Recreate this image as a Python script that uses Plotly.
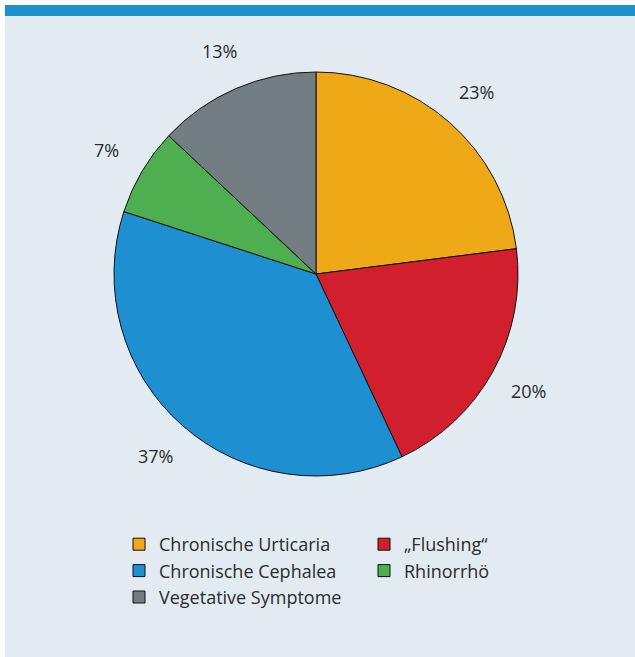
import math
import plotly.graph_objects as go

categories = ["Chronische Urticaria", "„Flushing“", "Chronische Cephalea", "Rhinorrhö", "Vegetative Symptome"]
values = [23, 20, 37, 7, 13]
label_texts = ["23%", "20%", "37%", "7%", "13%"]
colors = ["#F0A916", "#D11F2E", "#1E8FD0", "#4EAF50", "#737E83"]

W, H = 635, 657
cx, cy, R = 316, 274, 202
label_r = 243

fig = go.Figure()
fig.add_trace(go.Pie(
    labels=categories, values=values, sort=False, direction="clockwise", rotation=0,
    marker=dict(colors=colors, line=dict(color="#111111", width=1)),
    textinfo="none", hoverinfo="label+percent",
    domain=dict(x=[(cx - R) / W, (cx + R) / W], y=[1 - (cy + R) / H, 1 - (cy - R) / H]),
))

# percentage labels placed along each slice's mid angle
total = sum(values)
cum = 0
annotations = []
for v, t in zip(values, label_texts):
    mid = (cum + v / 2) / total * 2 * math.pi
    cum += v
    px = cx + label_r * math.sin(mid)
    py = cy - label_r * math.cos(mid)
    annotations.append(dict(x=px / W, y=1 - py / H, xref="paper", yref="paper", text=t,
                            showarrow=False, font=dict(size=18, color="#2b2b2b", family="Open Sans"),
                            xanchor="center", yanchor="middle"))

fig.update_layout(
    width=W, height=H, margin=dict(l=0, r=0, t=0, b=0, autoexpand=False),
    paper_bgcolor="white", plot_bgcolor="white",
    font=dict(family="Open Sans", color="#2b2b2b"),
    shapes=[
        dict(type="rect", xref="paper", yref="paper", x0=5 / W, x1=1, y0=0, y1=1 - 16 / H,
             fillcolor="#E3EBF2", line=dict(width=0), layer="below"),
        dict(type="rect", xref="paper", yref="paper", x0=5 / W, x1=1, y0=1 - 16 / H, y1=1 - 5 / H,
             fillcolor="#1E90CE", line=dict(width=0), layer="below"),
    ],
    annotations=annotations,
    showlegend=True,
    legend=dict(orientation="h", x=119 / W, xanchor="left", y=1 - 526 / H, yanchor="top",
                entrywidth=200, entrywidthmode="pixels", bgcolor="rgba(0,0,0,0)",
                font=dict(size=18, color="#2b2b2b", family="Open Sans"), traceorder="normal"),
)

fig.write_html("out.html")
